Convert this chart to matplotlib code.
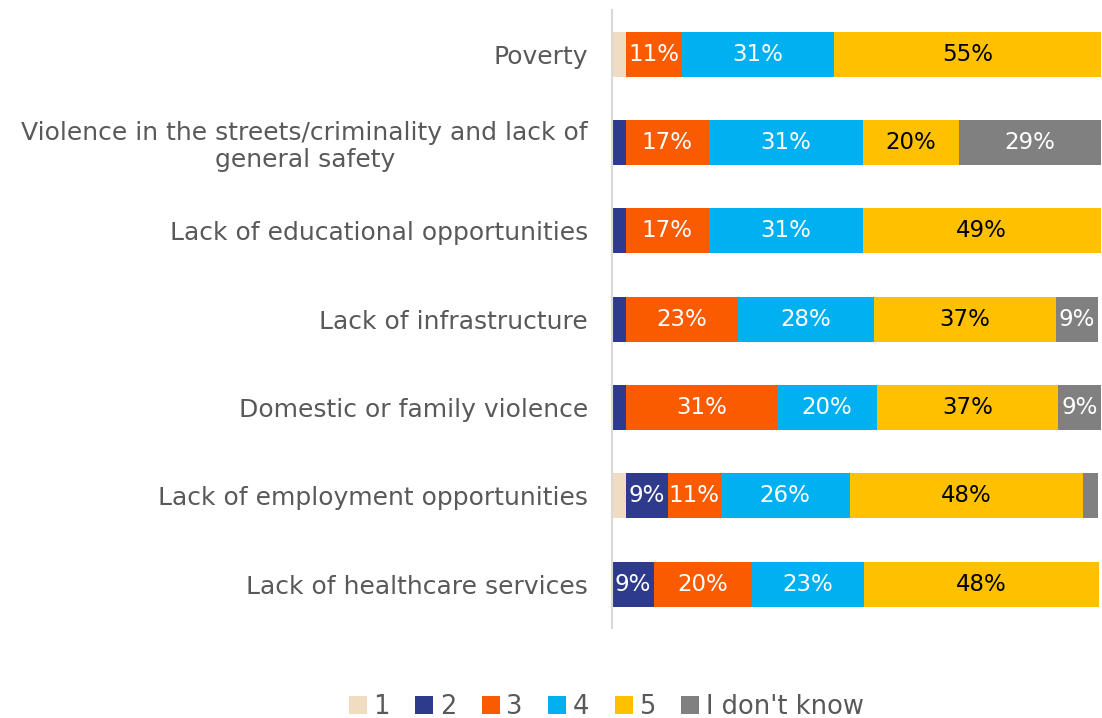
import numpy as np
import matplotlib
matplotlib.use("Agg")
from matplotlib import pyplot as plt

# Categories top to bottom and shares (percent) per answer
categories = [
    "Poverty",
    "Violence in the streets/criminality and lack of\ngeneral safety",
    "Lack of educational opportunities",
    "Lack of infrastructure",
    "Domestic or family violence",
    "Lack of employment opportunities",
    "Lack of healthcare services",
]
answers = ["1", "2", "3", "4", "5", "I don't know"]

share_1 = [2.9, 0.0, 0.0, 0.0, 0.0, 2.9, 0.0]
share_2 = [0.0, 2.9, 2.9, 2.9, 2.9, 8.6, 8.6]
share_3 = [11.4, 17.0, 17.0, 22.9, 30.9, 10.8, 20.0]
share_4 = [31.1, 31.4, 31.4, 27.8, 20.4, 26.4, 22.9]
share_5 = [54.6, 19.8, 48.7, 37.2, 37.0, 47.6, 48.1]
share_dk = [0.0, 28.9, 0.0, 8.6, 8.8, 3.2, 0.0]

colors = ["#f0dcc0", "#2e3a8c", "#fa5a00", "#00b0f0", "#ffc000", "#808080"]
text_colors = ["black", "white", "white", "white", "black", "white"]

plt.rcParams["font.family"] = ["DejaVu Sans"]

fig = plt.figure(figsize=(11.02, 7.18), dpi=100)
ax = fig.add_axes([0.555, 0.125, 0.444, 0.861])

series = [share_1, share_2, share_3, share_4, share_5, share_dk]
y = np.arange(len(categories))
left = np.zeros(len(categories))
for name, vals, col, tcol in zip(answers, series, colors, text_colors):
    vals = np.array(vals)
    ax.barh(y, vals, left=left, height=0.51, color=col, label=name)
    for yi, (l, v) in enumerate(zip(left, vals)):
        if v >= 5:
            ax.text(l + v / 2, yi, f"{v:.0f}%", ha="center", va="center",
                    color=tcol, fontsize=16.5)
    left += vals

ax.set_xlim(0, 100)
ax.set_ylim(len(categories) - 0.5, -0.5)
ax.set_yticks(y)
ax.set_yticklabels(categories, fontsize=18, color="#595959", linespacing=1.15)
ax.tick_params(axis="y", length=0, pad=17)
ax.set_xticks([])
for s in ["top", "right", "bottom"]:
    ax.spines[s].set_visible(False)
ax.spines["left"].set_color("#d9d9d9")
ax.spines["left"].set_linewidth(1.5)
for lbl in ax.get_yticklabels():
    lbl.set_multialignment("center")

fig.legend(loc="lower center", bbox_to_anchor=(0.55, -0.035), ncol=6,
           frameon=False, fontsize=18.5, handlelength=0.7, handleheight=0.7,
           handletextpad=0.25, columnspacing=1.0, labelcolor="#595959")

fig.savefig("out.png", dpi=100)
